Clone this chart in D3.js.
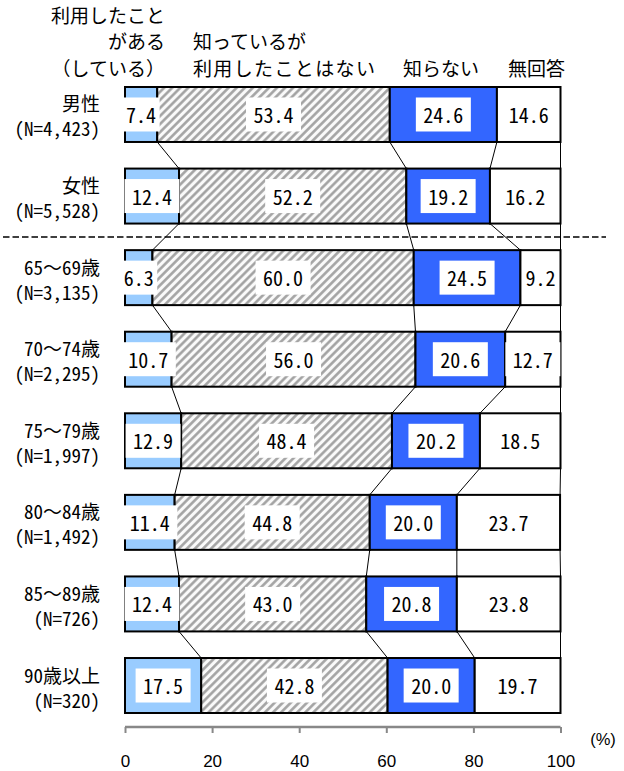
<!DOCTYPE html>
<html><head><meta charset="utf-8">
<script src="https://cdn.jsdelivr.net/npm/d3@7"></script>
<style>
html,body{margin:0;padding:0;background:#fff;}
svg{display:block;}
</style></head>
<body>
<svg id="chart" width="624" height="771"></svg>
<script>
// ---- data ----
const categories = ["男性","女性","65～69歳","70～74歳","75～79歳","80～84歳","85～89歳","90歳以上"];
const sampleSizes = ["(N=4,423)","(N=5,528)","(N=3,135)","(N=2,295)","(N=1,997)","(N=1,492)","(N=726)","(N=320)"];
const usedValues     = [7.4, 12.4, 6.3, 10.7, 12.9, 11.4, 12.4, 17.5];
const knownNotUsed   = [53.4, 52.2, 60.0, 56.0, 48.4, 44.8, 43.0, 42.8];
const unknownValues  = [24.6, 19.2, 24.5, 20.6, 20.2, 20.0, 20.8, 20.0];
const noAnswerValues = [14.6, 16.2, 9.2, 12.7, 18.5, 23.7, 23.8, 19.7];
const seriesNames = ["利用したことがある（している）","知っているが利用したことはない","知らない","無回答"];
const tickValues = [0, 20, 40, 60, 80, 100];

const svg = d3.select("#chart");
const monoFont = "'Noto Sans Mono CJK JP','Noto Sans CJK JP','DejaVu Sans Mono',monospace";
const cjkFont = "'Noto Sans CJK JP','Noto Sans Mono CJK JP',sans-serif";

// pattern
const defs = svg.append("defs");
const pat = defs.append("pattern").attr("id","hatch").attr("patternUnits","userSpaceOnUse")
  .attr("width",5.7).attr("height",5.7).attr("patternTransform","rotate(45)");
pat.append("rect").attr("width",5.7).attr("height",5.7).attr("fill","#fafafa");
pat.append("line").attr("x1",1.4).attr("y1",0).attr("x2",1.4).attr("y2",5.7)
  .attr("stroke","#a0a0a0").attr("stroke-width",2.5);

const x = d3.scaleLinear().domain([0,100]).range([125,560.5]);
const y = d3.scaleBand().domain(categories).range([73.7,726.3]).paddingInner(0.326).paddingOuter(0.163);
const bw = y.bandwidth();

const rows = categories.map((c,i)=>{
  const vals=[usedValues[i],knownNotUsed[i],unknownValues[i],noAnswerValues[i]];
  let acc=0; const segs=vals.map((v,k)=>{const s={k,v,x0:acc,x1:acc+v}; acc+=v; return s;});
  return {c,i,segs};
});
const fills = ["#99CCFF","url(#hatch)","#3366FF","#FFFFFF"];

// connectors
const gConn = svg.append("g");
for(let i=0;i<rows.length-1;i++){
  for(let k=0;k<4;k++){
    gConn.append("line")
      .attr("x1",x(rows[i].segs[k].x1)).attr("y1",y(rows[i].c)+bw)
      .attr("x2",x(rows[i+1].segs[k].x1)).attr("y2",y(rows[i+1].c))
      .attr("stroke","#000").attr("stroke-width",1);
  }
}

// dashed separator
svg.append("line").attr("x1",3).attr("x2",606).attr("y1",237).attr("y2",237)
  .attr("stroke","#000").attr("stroke-width",1.4).attr("stroke-dasharray","6.5,3");

// bars
const gBars = svg.append("g");
rows.forEach(r=>{
  gBars.selectAll(null).data(r.segs).enter().append("rect")
    .attr("x",d=>x(d.x0)).attr("width",d=>x(d.x1)-x(d.x0))
    .attr("y",y(r.c)).attr("height",bw)
    .attr("fill",d=>fills[d.k]).attr("stroke","#000").attr("stroke-width",2);
});

// labels
const gLab = svg.append("g");
rows.forEach(r=>{
  r.segs.forEach(d=>{
    const txt = d.v.toFixed(1);
    const cx = (x(d.x0)+x(d.x1))/2, cy = y(r.c)+bw/2;
    const g = gLab.append("g");
    const rect = g.append("rect").attr("fill","#fff");
    const t = g.append("text").attr("x",cx).attr("y",cy).attr("text-anchor","middle")
      .attr("dominant-baseline","central").attr("font-family",monoFont).attr("font-size",20)
      .attr("fill","#000").text(txt);
    const w = t.node().getComputedTextLength();
    const pad = txt.length>=4 ? 7.5 : 3.5;
    rect.attr("x",cx-w/2-pad).attr("width",w+2*pad).attr("y",cy-17).attr("height",34);
  });
});

// category labels
const gCat = svg.append("g").attr("font-family",monoFont).attr("font-size",19).attr("fill","#000");
categories.forEach((c,i)=>{
  const cy = y(c)+bw/2;
  gCat.append("text").attr("x",100).attr("y",cy-11.5).attr("text-anchor","end")
    .attr("dominant-baseline","central").text(c);
  gCat.append("text").attr("x",100).attr("y",cy+13.5).attr("text-anchor","end")
    .attr("dominant-baseline","central").text(sampleSizes[i]);
});

// headers
const gHead = svg.append("g").attr("font-family",cjkFont).attr("font-size",19).attr("fill","#000")
  .attr("dominant-baseline","central");
gHead.append("text").attr("x",165).attr("y",14).attr("text-anchor","end").text("利用したこと");
gHead.append("text").attr("x",165).attr("y",40).attr("text-anchor","end").text("がある");
gHead.append("text").attr("x",165).attr("y",67).attr("text-anchor","end").text("（している）");
gHead.append("text").attr("x",193).attr("y",40).text("知っているが");
gHead.append("text").attr("x",193).attr("y",67).attr("textLength",182).attr("lengthAdjust","spacing").text("利用したことはない");
gHead.append("text").attr("x",403).attr("y",67).text("知らない");
gHead.append("text").attr("x",508).attr("y",67).text("無回答");

// axis
const axis = d3.axisBottom(x).tickValues(tickValues).tickSize(6).tickPadding(22).tickFormat(d3.format("d"));
const gAx = svg.append("g").attr("transform","translate(0,727)").call(axis);
gAx.select(".domain").attr("stroke","#888").attr("stroke-width",2.5).attr("d","M"+x(0)+",0H"+x(100));
gAx.selectAll(".tick line").attr("stroke","#888").attr("stroke-width",2);
gAx.selectAll(".tick text").attr("font-family","'Liberation Sans',Arial,sans-serif").attr("font-size",17).attr("fill","#000");
svg.append("text").attr("x",603).attr("y",739).attr("text-anchor","middle").attr("dominant-baseline","central")
  .attr("font-family","'Liberation Sans',Arial,sans-serif").attr("font-size",16.5).text("(%)");
</script>
</body></html>
